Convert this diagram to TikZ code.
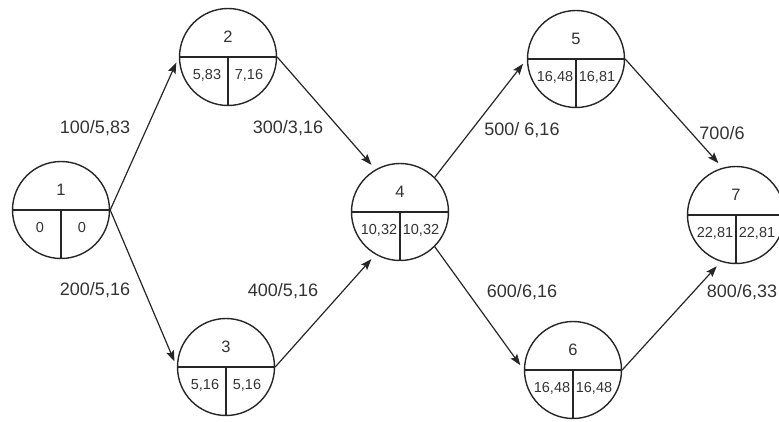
\documentclass[tikz,border=0pt]{standalone}
\usepackage{fontspec}
\setmainfont{Liberation Sans}
\usetikzlibrary{arrows.meta}

\begin{document}
\begin{tikzpicture}
    [x=1pt,y=-1pt,
     event/.style={draw=black!85,line width=1.4pt,circle,minimum size=97pt,inner sep=0pt},
     split/.style={draw=black!85,line width=1.4pt},
     num/.style={font=\fontsize{16.5}{18}\selectfont,text=black!80,inner sep=0pt},
     time/.style={font=\fontsize{14.5}{16}\selectfont,text=black!80,inner sep=0pt},
     act/.style={font=\fontsize{18}{20}\selectfont,text=black!80,inner sep=0pt},
     link/.style={draw=black!85,line width=1.2pt,-{Stealth[length=11pt,width=8pt,inset=2pt]},shorten >=6pt}]
    \useasboundingbox (0,0) rectangle (779,421);

    % Events: number on top, earliest / latest time below
    \foreach \n/\x/\y/\es/\lf in {1/61/210/0/0, 2/228/57/{5,83}/{7,16}, 3/226/367/{5,16}/{5,16},
        4/400/212/{10,32}/{10,32}, 5/576/59/{16,48}/{16,81}, 6/573/370/{16,48}/{16,48},
        7/736/215/{22,81}/{22,81}}
    {
      \node (n\n) at (\x,\y) [event] {};
      \draw [split] (n\n.west) -- (n\n.east) (n\n.center) -- (n\n.south);
      \node (n\n-num) at (\x,\y-20) [num] {\n};
      \node (n\n-es) at (\x-21,\y+18) [time] {\es};
      \node (n\n-lf) at (\x+21,\y+18) [time] {\lf};
    }

    % Activities
    \draw [link] (n1.east) -- (n2.west);
    \draw [link] (n1.east) -- (n3.west);
    \draw [link] (n2.east) -- (n4.120);
    \draw [link] (n3.east) -- (n4.240);
    \draw [link] (n4.45)   -- (n5.west);
    \draw [link] (n4.-45)  -- (n6.west);
    \draw [link] (n5.east) -- (n7.106);
    \draw [link] (n6.east) -- (n7.252);

    % Cost / duration labels
    \node (a12) at (95,128)  [act] {100/5,83};
    \node (a13) at (95,290)  [act] {200/5,16};
    \node (a24) at (288,128) [act] {300/3,16};
    \node (a34) at (283,291) [act] {400/5,16};
    \node (a45) at (522,130) [act] {500/ 6,16};
    \node (a46) at (522,292) [act] {600/6,16};
    \node (a57) at (722,133) [act] {700/6};
    \node (a67) at (742,292) [act] {800/6,33};
\end{tikzpicture}
\end{document}
